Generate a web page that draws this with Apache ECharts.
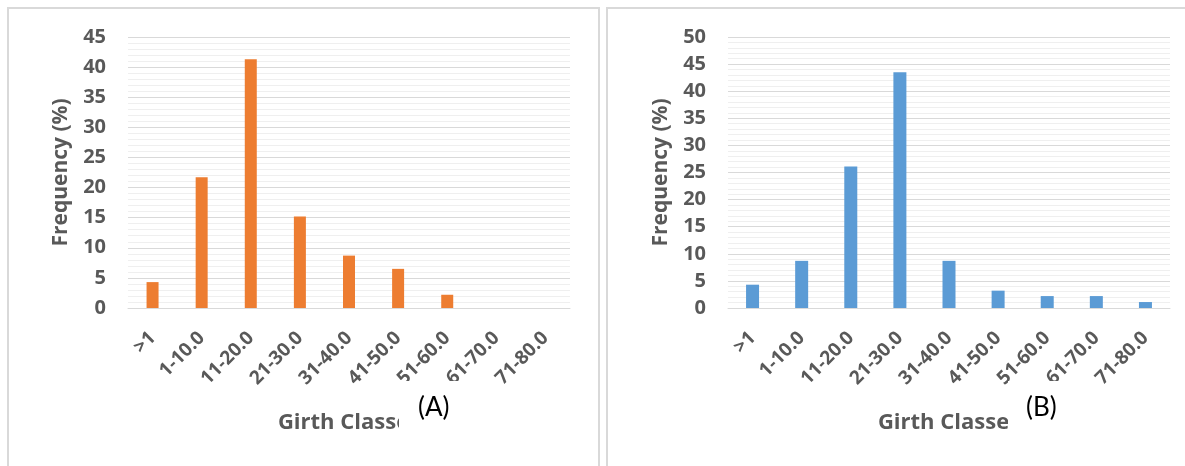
<!DOCTYPE html>
<html>
<head>
<meta charset="utf-8">
<script src="https://cdn.jsdelivr.net/npm/echarts@6/dist/echarts.min.js"></script>
<style>
html,body{margin:0;padding:0;background:#fff;}
#c{width:1185px;height:466px;}
</style>
</head>
<body>
<div id="c"></div>
<script>
const categories = [">1","1-10.0","11-20.0","21-30.0","31-40.0","41-50.0","51-60.0","61-70.0","71-80.0"];
const valuesA = [4.3, 21.7, 41.3, 15.2, 8.7, 6.5, 2.2, 0, 0];
const valuesB = [4.3, 8.7, 26.1, 43.5, 8.7, 3.2, 2.2, 2.2, 1.1];
const yTicksA = {min: 0, max: 45, interval: 5};
const yTicksB = {min: 0, max: 50, interval: 5};
const axisTitleX = "Girth Classes";
const axisTitleY = "Frequency (%)";
const panelLabels = ["(A)", "(B)"];

const gray = '#595959';
const font = '"Open Sans", Lato, sans-serif';

function xAxis(gi){
  return {
    type:'category', gridIndex: gi, data: categories,
    axisLine:{show:true, lineStyle:{color:'#D9D9D9', width:1}},
    axisTick:{show:false},
    axisLabel:{rotate:45, margin:27, color:gray, fontSize:19, fontWeight:'bold', fontFamily:font, interval:0},
    name: axisTitleX, nameLocation:'middle', nameGap:104,
    nameTextStyle:{color:gray, fontSize:22, fontWeight:'bold', fontFamily:font}
  };
}
function yAxis(gi, t){
  return {
    type:'value', gridIndex: gi, min:t.min, max:t.max, interval:t.interval,
    axisLine:{show:false}, axisTick:{show:false},
    axisLabel:{margin:22, color:gray, fontSize:20, fontWeight:'bold', fontFamily:font},
    splitLine:{show:true, lineStyle:{color:'#D9D9D9', width:1}},
    minorTick:{show:false, splitNumber:5},
    minorSplitLine:{show:true, lineStyle:{color:'#EFEFEF', width:1}},
    name: axisTitleY, nameLocation:'middle', nameGap:56, nameRotate:90,
    nameTextStyle:{color:gray, fontSize:21, fontWeight:'bold', fontFamily:font}
  };
}

const chart = echarts.init(document.getElementById('c'), null, {renderer:'canvas'});
chart.setOption({
  animation:false,
  backgroundColor:'#fff',
  grid:[
    {left:128, right:615, top:37, bottom:158},
    {left:728, right:15, top:37, bottom:158}
  ],
  xAxis:[xAxis(0), xAxis(1)],
  yAxis:[yAxis(0, yTicksA), yAxis(1, yTicksB)],
  series:[
    {type:'bar', xAxisIndex:0, yAxisIndex:0, data:valuesA, barWidth:12, itemStyle:{color:'#ED7D31'}},
    {type:'bar', xAxisIndex:1, yAxisIndex:1, data:valuesB, barWidth:13, itemStyle:{color:'#5B9BD5'}}
  ],
  graphic:[
    {type:'rect', z:0, shape:{x:8, y:8, width:591, height:470}, style:{fill:'none', stroke:'#D9D9D9', lineWidth:2}},
    {type:'rect', z:0, shape:{x:607, y:8, width:590, height:470}, style:{fill:'none', stroke:'#D9D9D9', lineWidth:2}},
    {type:'rect', z:100, shape:{x:399, y:381, width:82, height:52}, style:{fill:'#fff'}},
    {type:'text', z:101, left:418, top:395, style:{text:panelLabels[0], fill:'#000', font:'26px Lato, Carlito, sans-serif'}},
    {type:'rect', z:100, shape:{x:1008, y:381, width:72, height:52}, style:{fill:'#fff'}},
    {type:'text', z:101, left:1026, top:395, style:{text:panelLabels[1], fill:'#000', font:'26px Lato, Carlito, sans-serif'}}
  ]
});
</script>
</body>
</html>
